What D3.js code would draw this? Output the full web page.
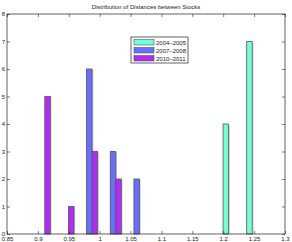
<!DOCTYPE html>
<html lang="en">
<head>
    <meta charset="UTF-8">
    <title>Distribution of Distances between Stocks</title>
    <script src="https://d3js.org/d3.v7.min.js"></script>
    <style>
        body { margin: 0; background: white; }
        text { font-family: "Liberation Sans", Arial, sans-serif; }
    </style>
</head>
<body>
<script>
    // bin centres (distance) shared by all three periods
    const binCenters = [0.9067, 0.9450, 0.9833, 1.0216, 1.0599, 1.0982, 1.1365, 1.1748, 1.2131, 1.2514];
    const seriesNames = ["2004\u20132005", "2007\u20132008", "2010\u20132011"];
    const counts2004 = [0, 0, 0, 0, 0, 0, 0, 0, 4, 7];
    const counts2007 = [0, 0, 6, 3, 2, 0, 0, 0, 0, 0];
    const counts2010 = [5, 1, 3, 2, 0, 0, 0, 0, 0, 0];
    const colors = ["#76fcd6", "#6a6eff", "#b22cf7"];
    const xTicks = [0.85, 0.9, 0.95, 1, 1.05, 1.1, 1.15, 1.2, 1.25, 1.3];
    const yTicks = [0, 1, 2, 3, 4, 5, 6, 7, 8];

    const width = 292, height = 242;
    const mLeft = 7, mRight = 285, mTop = 14, mBottom = 234;

    const svg = d3.select("body").append("svg")
        .attr("width", width).attr("height", height);

    const x = d3.scaleLinear().domain([0.85, 1.3]).range([mLeft, mRight]);
    const y = d3.scaleLinear().domain([0, 8]).range([mBottom, mTop]);

    // bar width: three bars fill 70% of one bin
    const binPx = x(binCenters[1]) - x(binCenters[0]);
    const barW = binPx * 0.7 / 3;

    const allSeries = [counts2004, counts2007, counts2010];
    allSeries.forEach((counts, s) => {
        const g = svg.append("g");
        const data = counts.map((c, i) => ({ c: c, center: binCenters[i] })).filter(d => d.c > 0);
        // light shadow on the right edge
        g.selectAll("rect.shadow").data(data).enter().append("rect")
            .attr("x", d => x(d.center) + (s - 1) * barW - barW / 2 + barW)
            .attr("y", d => y(d.c) + 1)
            .attr("width", 1.2)
            .attr("height", d => y(0) - y(d.c) - 1)
            .attr("fill", "#c8c8c8");
        g.selectAll("rect.bar").data(data).enter().append("rect")
            .attr("x", d => x(d.center) + (s - 1) * barW - barW / 2)
            .attr("y", d => y(d.c))
            .attr("width", barW)
            .attr("height", d => y(0) - y(d.c))
            .attr("fill", colors[s])
            .attr("stroke", "#555")
            .attr("stroke-width", 0.8);
    });

    // axes box with inward ticks
    const axisG = svg.append("g");
    axisG.append("g").attr("transform", `translate(0,${mBottom})`)
        .call(d3.axisBottom(x).tickValues(xTicks).tickSizeInner(-3).tickSizeOuter(0).tickPadding(3).tickFormat(d => d3.format("")(d)))
        .call(g => g.select(".domain").remove());
    axisG.append("g").attr("transform", `translate(0,${mTop})`)
        .call(d3.axisTop(x).tickValues(xTicks).tickSizeInner(-3).tickSizeOuter(0).tickFormat(""))
        .call(g => g.select(".domain").remove());
    axisG.append("g").attr("transform", `translate(${mLeft},0)`)
        .call(d3.axisLeft(y).tickValues(yTicks).tickSizeInner(-3).tickSizeOuter(0).tickPadding(2))
        .call(g => g.select(".domain").remove());
    axisG.append("g").attr("transform", `translate(${mRight},0)`)
        .call(d3.axisRight(y).tickValues(yTicks).tickSizeInner(-3).tickSizeOuter(0).tickFormat(""))
        .call(g => g.select(".domain").remove());
    svg.selectAll(".tick line").attr("stroke", "#222").attr("stroke-width", 0.6);
    svg.selectAll(".tick text").attr("font-size", 6).attr("fill", "#222")
        .attr("font-family", "'Liberation Sans', Arial, sans-serif");

    svg.append("rect")
        .attr("x", mLeft).attr("y", mTop)
        .attr("width", mRight - mLeft).attr("height", mBottom - mTop)
        .attr("fill", "none").attr("stroke", "#222").attr("stroke-width", 0.7);

    svg.append("text")
        .attr("x", (mLeft + mRight) / 2).attr("y", 9)
        .attr("text-anchor", "middle")
        .attr("font-size", 6).attr("fill", "#222")
        .text("Distribution of Distances between Stocks");

    // legend
    const lg = svg.append("g").attr("transform", "translate(131,37)");
    lg.append("rect").attr("width", 57).attr("height", 26)
        .attr("fill", "white").attr("stroke", "#222").attr("stroke-width", 0.7);
    seriesNames.forEach((name, i) => {
        lg.append("rect")
            .attr("x", 3).attr("y", 2.5 + i * 8)
            .attr("width", 20).attr("height", 5.5)
            .attr("fill", colors[i]).attr("stroke", "#555").attr("stroke-width", 0.6);
        lg.append("text")
            .attr("x", 25).attr("y", 7.5 + i * 8)
            .attr("font-size", 6).attr("fill", "#222")
            .text(name);
    });
</script>
</body>
</html>
